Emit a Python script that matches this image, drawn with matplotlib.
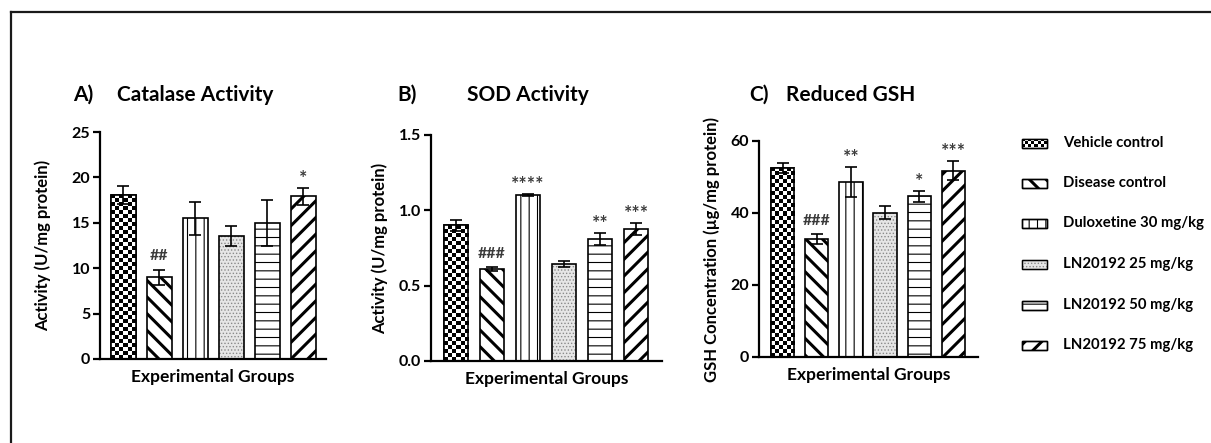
import numpy as np
import matplotlib
matplotlib.use('Agg')
import matplotlib.pyplot as plt
from matplotlib.patches import Rectangle
from matplotlib.lines import Line2D

plt.rcParams['font.family'] = ['Lato', 'DejaVu Sans']
plt.rcParams['font.weight'] = 'bold'

# data
groups = ['Vehicle control', 'Disease control', 'Duloxetine 30 mg/kg',
          'LN20192 25 mg/kg', 'LN20192 50 mg/kg', 'LN20192 75 mg/kg']

catalase = [18.1, 9.0, 15.5, 13.6, 15.0, 17.9]
catalase_err = [1.0, 0.85, 1.8, 1.1, 2.5, 0.9]
catalase_sig = ['', '##', '', '', '', '*']

sod = [0.90, 0.61, 1.10, 0.645, 0.81, 0.875]
sod_err = [0.035, 0.012, 0.008, 0.02, 0.04, 0.04]
sod_sig = ['', '###', '****', '', '**', '***']

gsh = [52.5, 32.8, 48.6, 40.1, 44.6, 51.8]
gsh_err = [1.5, 1.3, 4.2, 1.8, 1.5, 2.6]
gsh_sig = ['', '###', '**', '', '*', '***']

W, H = 1211, 443
fig = plt.figure(figsize=(W / 100, H / 100), dpi=100)

# fill style per group
styles = [
    dict(kind='checker'),
    dict(hatch='\\\\', hlw=2.2),
    dict(hatch='||', hlw=0.8),
    dict(hatch='.....', hlw=0.6, face='#e6e6e6', hcolor='#8a8a8a'),
    dict(hatch='--', hlw=0.8),
    dict(hatch='//', hlw=2.2),
]


def checker_fill(ax, patch, cell=4):
    x0, y0 = patch.get_x(), patch.get_y()
    x1, y1 = x0 + patch.get_width(), y0 + patch.get_height()
    p0 = ax.transData.transform((x0, y0))
    p1 = ax.transData.transform((x1, y1))
    nx = max(1, int(round(abs(p1[0] - p0[0]) / cell)))
    ny = max(1, int(round(abs(p1[1] - p0[1]) / cell)))
    arr = np.add.outer(np.arange(ny), np.arange(nx)) % 2
    im = ax.imshow(arr, cmap='gray', extent=(x0, x1, y0, y1), origin='lower',
                   interpolation='nearest', aspect='auto', zorder=2)
    im.set_clip_path(patch)


def fancy_bar(ax, x, h, w, st):
    if st.get('kind') == 'checker':
        b = ax.bar(x, h, w, color='white', edgecolor='black', linewidth=1.2, zorder=2)[0]
        checker_fill(ax, b)
        ax.bar(x, h, w, fill=False, edgecolor='black', linewidth=1.2, zorder=2.5)
        return
    with plt.rc_context({'hatch.linewidth': st['hlw']}):
        if 'hcolor' in st:
            b = ax.bar(x, h, w, color=st['face'], edgecolor=st['hcolor'],
                       hatch=st['hatch'], linewidth=0, zorder=2)[0]
            ax.bar(x, h, w, fill=False, edgecolor='black', linewidth=1.2, zorder=2.5)
        else:
            b = ax.bar(x, h, w, color='white', edgecolor='black',
                       hatch=st['hatch'], linewidth=1.2, zorder=2)[0]
    if hasattr(b, 'set_hatch_linewidth'):
        b.set_hatch_linewidth(st['hlw'])


def panel(rect, xlim, vals, errs, sigs, ylim, yticks, yfmt, ylabel, ylab_x):
    ax = fig.add_axes(rect)
    ax.set_xlim(*xlim)
    ax.set_ylim(*ylim)
    x = np.arange(len(vals))
    for i in range(len(vals)):
        fancy_bar(ax, x[i], vals[i], 0.68, styles[i])
    ax.errorbar(x, vals, yerr=errs, fmt='none', ecolor='black', elinewidth=1.2,
                capsize=4, capthick=1.2, zorder=3)
    for i, s in enumerate(sigs):
        if not s:
            continue
        if '*' in s:
            fs, off = 14, 3
        else:
            fs, off = 11.5, 7
        ax.annotate(s, (x[i], vals[i] + errs[i]), xytext=(0, off),
                    textcoords='offset points', ha='center', va='baseline',
                    fontsize=fs, color='#3a3a3a')
    for side in ['top', 'right']:
        ax.spines[side].set_visible(False)
    for side in ['left', 'bottom']:
        ax.spines[side].set_linewidth(1.6)
    ax.set_xticks([])
    ax.set_yticks(yticks)
    ax.set_yticklabels([yfmt.format(t) for t in yticks])
    ax.tick_params(axis='y', length=5, width=1.6, labelsize=11.5, pad=2)
    ax.set_ylabel(ylabel, fontsize=12, fontweight='bold')
    ax.yaxis.set_label_coords(ylab_x, 0.5)
    ax.set_xlabel('Experimental Groups', fontsize=12.5, fontweight='bold', labelpad=7)
    return ax


def fr(l, r, bottom, top):
    return [l / W, (H - bottom) / H, (r - l) / W, (bottom - top) / H]


axA = panel(fr(100, 326, 359, 132), (-0.65, 5.63), catalase, catalase_err, catalase_sig,
            (0, 25), [0, 5, 10, 15, 20, 25], '{:g}', 'Activity (U/mg protein)', -0.215)
axB = panel(fr(431, 662, 361, 135), (-0.69, 5.72), sod, sod_err, sod_sig,
            (0, 1.5), [0.0, 0.5, 1.0, 1.5], '{:.1f}', 'Activity (U/mg protein)', -0.185)
axC = panel(fr(759, 978, 357, 141), (-0.69, 5.72), gsh, gsh_err, gsh_sig,
            (0, 60), [0, 20, 40, 60], '{:g}', 'GSH Concentration (\u00b5g/mg protein)', -0.18)

# panel titles
ty = 1 - 95 / H
for lx, tx, letter, title in [(73, 117, 'A)', 'Catalase Activity'),
                              (397, 467, 'B)', 'SOD Activity'),
                              (749, 786, 'C)', 'Reduced GSH')]:
    fig.text(lx / W, ty, letter, fontsize=15, fontweight='bold', va='center', ha='left')
    fig.text(tx / W, ty, title, fontsize=15, fontweight='bold', va='center', ha='left')

# legend drawn by hand so the checker pattern shows
lax = fig.add_axes([1010 / W, 0, 201 / W, 1])
lax.set_xlim(1010, 1211)
lax.set_ylim(H, 0)
lax.axis('off')
leg_y = [143, 183, 223, 264, 305, 345]
for i, (g, yc) in enumerate(zip(groups, leg_y)):
    st = styles[i]
    r = Rectangle((1022, yc - 4.5), 25, 9, facecolor='white', edgecolor='black', lw=1.0)
    if st.get('kind') == 'checker':
        lax.add_patch(r)
        arr = np.add.outer(np.arange(3), np.arange(8)) % 2
        im = lax.imshow(arr, cmap='gray', extent=(1022, 1047, yc + 4.5, yc - 4.5),
                        origin='lower', interpolation='nearest', aspect='auto', zorder=2)
        im.set_clip_path(r)
    else:
        if 'hcolor' in st:
            r.set_facecolor(st['face'])
            r.set_edgecolor(st['hcolor'])
        r.set_hatch(st['hatch'])
        if hasattr(r, 'set_hatch_linewidth'):
            r.set_hatch_linewidth(st['hlw'])
        lax.add_patch(r)
    lax.add_patch(Rectangle((1022, yc - 4.5), 25, 9, fill=False, edgecolor='black', lw=1.0, zorder=3))
    lax.text(1063, yc, g, fontsize=10.7, fontweight='bold', va='center', ha='left')
lax.set_xlim(1010, 1211)
lax.set_ylim(H, 0)

# outer frame (right and bottom edges are cut off in the original)
fig.add_artist(Line2D([11 / W, 11 / W], [0, 1 - 12 / H], color='#1a1a1a', lw=1.6))
fig.add_artist(Line2D([11 / W, 1], [1 - 12 / H, 1 - 12 / H], color='#1a1a1a', lw=1.6))

fig.savefig('out.png', dpi=100)
